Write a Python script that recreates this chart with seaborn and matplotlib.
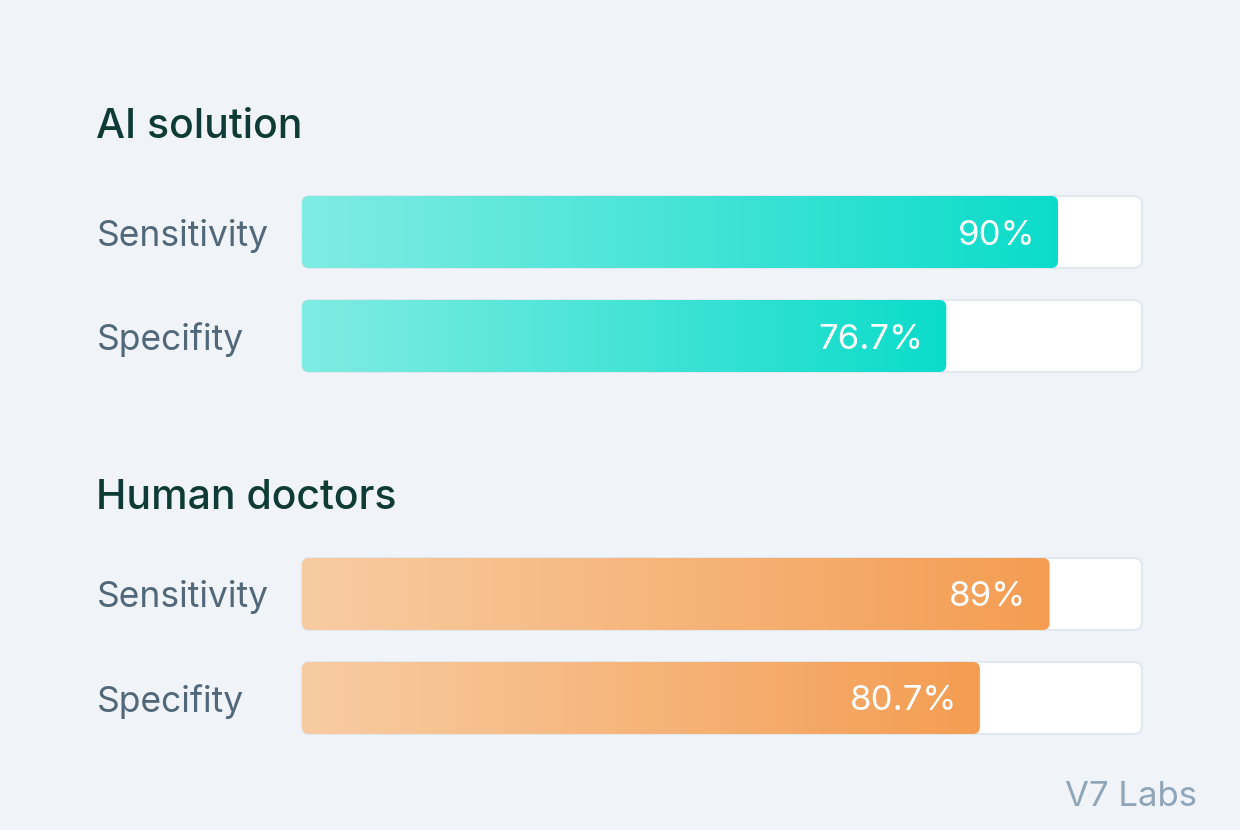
import numpy as np
import pandas as pd
import matplotlib
matplotlib.use("Agg")
import matplotlib.pyplot as plt
import matplotlib.transforms as mtransforms
from matplotlib.patches import FancyBboxPatch
from matplotlib.colors import LinearSegmentedColormap
import seaborn as sns

# ---- data ----
groups = ["AI solution", "Human doctors"]
metrics = ["Sensitivity", "Specifity"]
ai_values = [90.0, 76.7]
human_values = [89.0, 80.7]
value_labels_ai = ["90%", "76.7%"]
value_labels_human = ["89%", "80.7%"]
max_value = 100.0
watermark = "V7 Labs"

# ---- style ----
BG = "#F0F3F8"
HEAD_C = "#0E3B36"
LABEL_C = "#51687A"
WM_C = "#8FA6BA"
TRACK_BORDER = "#E2E8F0"
grad_colors = {
    "AI solution": ("#80ECE3", "#0BDCCA"),
    "Human doctors": ("#F8CCA2", "#F49D52"),
}

sns.set_theme(style="white")
plt.rcParams["font.family"] = ["Inter", "DejaVu Sans"]

W, H = 1240, 830
fig = plt.figure(figsize=(W / 100, H / 100), dpi=100)
fig.patch.set_facecolor(BG)

track_left, track_right = 302, 1142
bar_h_px, pitch_px = 72, 104
group_tops = [196, 558]
heading_baselines = [138, 509]

values_by_group = {"AI solution": ai_values, "Human doctors": human_values}
labels_by_group = {"AI solution": value_labels_ai, "Human doctors": value_labels_human}

bar_w = bar_h_px / pitch_px
for gi, g in enumerate(groups):
    top = group_tops[gi]
    bottom = top + pitch_px + bar_h_px
    ax = fig.add_axes([track_left / W, 1 - bottom / H,
                       (track_right - track_left) / W, (bottom - top) / H])
    ax.set_facecolor("none")
    df = pd.DataFrame({"metric": metrics, "value": values_by_group[g],
                       "track": [max_value] * len(metrics)})
    sns.barplot(data=df, x="track", y="metric", orient="h", width=bar_w,
                color="white", ax=ax)
    sns.barplot(data=df, x="value", y="metric", orient="h", width=bar_w,
                color=grad_colors[g][1], ax=ax)
    ax.set_xlim(0, max_value)
    ax.set_ylim(1 + bar_w / 2, -bar_w / 2)
    ax.axis("off")

    xpx = (track_right - track_left) / max_value  # px per x unit
    ypx = pitch_px  # px per y unit
    aspect = xpx / ypx
    patches = list(ax.patches)
    n = len(metrics)
    cmap = LinearSegmentedColormap.from_list("g", list(grad_colors[g]))
    grad = np.linspace(0, 1, 256).reshape(1, -1)
    for i, p in enumerate(patches):
        x0, y0 = p.get_x(), p.get_y()
        w, h = p.get_width(), p.get_height()
        p.set_visible(False)
        if i < n:
            r = 8 / xpx
            fb = FancyBboxPatch((x0, y0), w, h,
                                boxstyle=f"round,pad=0,rounding_size={r}",
                                mutation_aspect=aspect,
                                facecolor="white", edgecolor=TRACK_BORDER,
                                linewidth=1.5, zorder=1, clip_on=False)
            ax.add_patch(fb)
        else:
            r = 7 / xpx
            fb = FancyBboxPatch((x0, y0), w, h,
                                boxstyle=f"round,pad=0,rounding_size={r}",
                                mutation_aspect=aspect,
                                facecolor="none", edgecolor="none", zorder=2,
                                clip_on=False)
            ax.add_patch(fb)
            im = ax.imshow(grad, cmap=cmap, aspect="auto",
                           extent=(x0, x0 + w, y0 + h, y0), zorder=2,
                           interpolation="bilinear")
            im.set_clip_path(fb)
            j = i - n
            ax.text(x0 + w - 23 / xpx, y0 + h / 2, labels_by_group[g][j],
                    ha="right", va="center_baseline", color="white",
                    fontsize=25, zorder=3)
    ax.set_xlim(0, max_value)
    ax.set_ylim(1 + bar_w / 2, -bar_w / 2)

    trans = mtransforms.blended_transform_factory(fig.transFigure, ax.transData)
    for j, m in enumerate(metrics):
        ax.text(97 / W, j, m, transform=trans, ha="left",
                va="center_baseline", color=LABEL_C, fontsize=25.5)

    fig.text(96 / W, 1 - heading_baselines[gi] / H, g, ha="left",
             va="baseline", color=HEAD_C, fontsize=29.5, fontweight="medium")

fig.text(1197 / W, 1 - 806 / H, watermark, ha="right", va="baseline",
         color=WM_C, fontsize=25)

fig.savefig("out.png", dpi=100, facecolor=BG)
